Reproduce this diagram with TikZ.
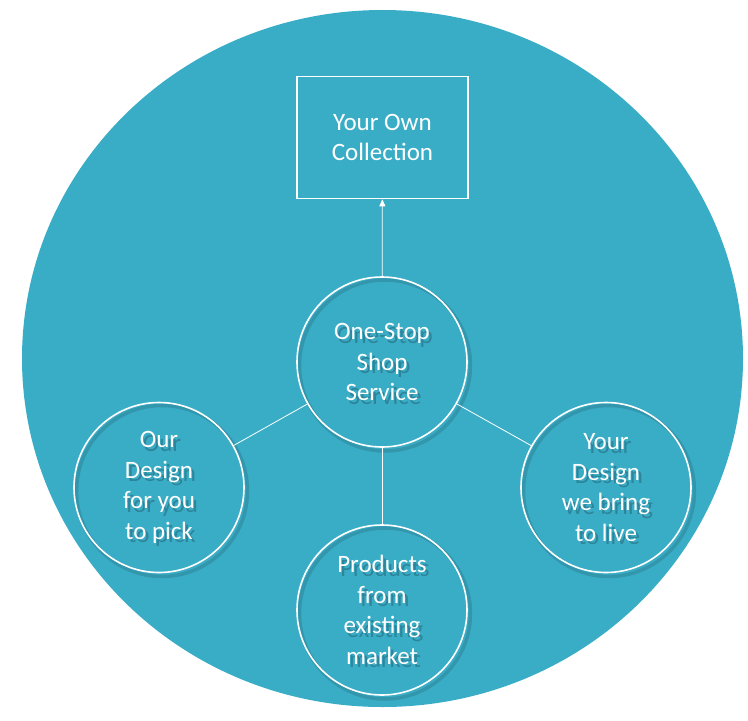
\documentclass[tikz,border=0pt]{standalone}
\usepackage{fontspec}
\setmainfont{Carlito}
\usetikzlibrary{arrows.meta,calc}
\definecolor{bgblue}{RGB}{58,173,198}
\definecolor{shadowc}{RGB}{25,70,85}
\tikzset{
  bubble/.style={circle, draw=white, line width=1.6pt, minimum size=170pt, inner sep=0pt,
    text=white, align=center, font=\fontsize{25}{30.5}\selectfont},
  bubbleshadow/.style={circle, draw=shadowc, draw opacity=0.22, line width=3.5pt, minimum size=171pt, inner sep=0pt,
    text=shadowc, text opacity=0.38, align=center, font=\fontsize{25}{30.5}\selectfont},
  collbox/.style={rectangle, draw=white, line width=1.6pt, minimum width=171pt, minimum height=122pt,
    text=white, align=center, font=\fontsize{25}{30}\selectfont},
  link/.style={draw=white, line width=0.8pt},
  arrowlink/.style={draw=white, line width=0.8pt, -{Triangle[width=6pt,length=7pt]}}
}
\begin{document}
\begin{tikzpicture}[x=1pt,y=-1pt]
\useasboundingbox (0,0) rectangle (748,721);
\fill[bgblue] (382.5,358.5) ellipse [x radius=360.5, y radius=348.5];
% shadows
\node[bubbleshadow] (c-sh) at (385,365.5) {One-Stop\\Shop\\Service};
\node[bubbleshadow] (l-sh) at (162,491) {Our\\Design\\for you\\to pick};
\node[bubbleshadow] (r-sh) at (609,491) {Your\\Design\\we bring\\to live};
\node[bubbleshadow] (b-sh) at (385,613.5) {Products\\from\\existing\\market};
% main nodes
\node[collbox] (top) at (382.5,137.5) {Your Own\\Collection};
\node[bubble] (c) at (382,362) {One-Stop\\Shop\\Service};
\node[bubble] (l) at (159,487.5) {Our\\Design\\for you\\to pick};
\node[bubble] (r) at (606,487.5) {Your\\Design\\we bring\\to live};
\node[bubble] (b) at (382,610) {Products\\from\\existing\\market};
% connectors
\draw[arrowlink] (c) -- (top);
\draw[link] (c) -- (l);
\draw[link] (c) -- (r);
\draw[link] (c) -- (b);
\end{tikzpicture}
\end{document}
